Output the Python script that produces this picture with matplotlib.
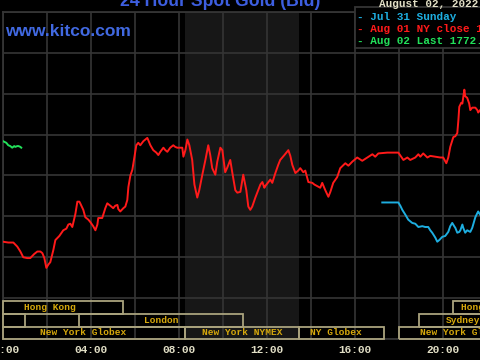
import matplotlib
matplotlib.use("Agg")
import matplotlib.pyplot as plt
import matplotlib.transforms as mtransforms
from matplotlib.patches import Rectangle

# hours are New York time, prices are bid in USD/oz
aug01_hours = [
    0.00, 0.24, 0.47, 0.65, 0.79, 0.92, 1.10, 1.24, 1.42, 1.56, 1.70, 1.79,
    1.88, 1.97, 2.06, 2.15, 2.29, 2.38, 2.56, 2.74, 2.88, 2.97, 3.06, 3.15,
    3.29, 3.38, 3.47, 3.51, 3.65, 3.74, 3.88, 3.97, 4.10, 4.20, 4.29, 4.33,
    4.42, 4.51, 4.65, 4.74, 4.88, 5.01, 5.10, 5.20, 5.24, 5.33, 5.47, 5.56,
    5.65, 5.70, 5.79, 5.88, 5.97, 6.06, 6.15, 6.24, 6.38, 6.56, 6.70, 6.83,
    6.97, 7.06, 7.15, 7.29, 7.38, 7.47, 7.60, 7.74, 7.83, 7.92, 8.06, 8.15,
    8.20, 8.29, 8.38, 8.47, 8.60, 8.70, 8.83, 8.92, 9.06, 9.20, 9.33, 9.42,
    9.51, 9.65, 9.74, 9.88, 9.97, 10.10, 10.20, 10.33, 10.42, 10.56, 10.65,
    10.79, 10.88, 10.92, 11.06, 11.15, 11.24, 11.33, 11.47, 11.60, 11.70,
    11.79, 11.88, 11.92, 12.06, 12.15, 12.24, 12.38, 12.51, 12.60, 12.79,
    12.97, 13.06, 13.15, 13.29, 13.42, 13.51, 13.65, 13.74, 13.88, 14.06,
    14.15, 14.42, 14.51, 14.65, 14.79, 14.88, 15.01, 15.19, 15.33, 15.56,
    15.70, 15.88, 16.10, 16.33, 16.56, 16.79, 16.92, 17.06, 17.47, 17.97,
    18.20, 18.38, 18.51, 18.74, 18.88, 18.97, 19.10, 19.29, 19.42, 19.65,
    19.88, 20.01, 20.15, 20.24, 20.33, 20.47, 20.56, 20.65, 20.70, 20.74,
    20.83, 20.88, 20.97, 21.01, 21.10, 21.19, 21.24, 21.33, 21.47, 21.56,
    21.60, 21.69,
]
aug01_prices = [
    1761.9, 1761.8, 1761.8, 1761.3, 1760.7, 1760.0, 1759.9, 1759.9, 1760.4,
    1760.7, 1760.7, 1760.5, 1759.9, 1758.7, 1759.1, 1759.4, 1760.9, 1762.1,
    1762.6, 1763.3, 1763.5, 1764.0, 1764.1, 1763.7, 1765.3, 1766.8, 1766.8,
    1766.6, 1765.8, 1764.9, 1764.6, 1764.3, 1763.8, 1763.3, 1764.0, 1764.8,
    1764.8, 1764.8, 1766.0, 1766.6, 1766.3, 1766.0, 1766.3, 1766.4, 1765.9,
    1765.6, 1766.0, 1766.2, 1767.0, 1768.6, 1770.0, 1770.7, 1772.2, 1773.7,
    1774.0, 1773.7, 1774.2, 1774.6, 1773.7, 1773.1, 1772.8, 1772.5, 1772.9,
    1773.4, 1773.1, 1772.9, 1773.4, 1773.7, 1773.5, 1773.4, 1773.4, 1773.4,
    1772.3, 1773.1, 1774.4, 1773.7, 1771.9, 1768.9, 1767.3, 1768.2, 1770.1,
    1771.9, 1773.7, 1772.5, 1770.9, 1770.1, 1771.7, 1773.4, 1773.1, 1770.4,
    1771.0, 1771.9, 1770.4, 1768.2, 1767.9, 1768.0, 1769.5, 1770.1, 1768.2,
    1766.2, 1765.8, 1766.2, 1767.3, 1768.2, 1768.9, 1769.2, 1768.5, 1768.7,
    1769.2, 1769.5, 1769.1, 1770.3, 1771.3, 1771.9, 1772.5, 1773.1, 1772.4,
    1771.3, 1770.3, 1770.6, 1770.9, 1770.4, 1770.6, 1769.2, 1769.1, 1768.9,
    1768.5, 1769.1, 1768.2, 1767.4, 1768.0, 1769.1, 1769.8, 1770.9, 1771.5,
    1771.2, 1771.7, 1772.2, 1771.8, 1772.2, 1772.6, 1772.3, 1772.7, 1772.8,
    1772.8, 1771.9, 1772.2, 1771.9, 1772.2, 1772.6, 1772.3, 1772.7, 1772.2,
    1772.4, 1772.3, 1772.2, 1772.2, 1771.5, 1772.2, 1773.5, 1774.7, 1774.8,
    1775.2, 1776.8, 1778.4, 1778.9, 1778.8, 1780.5, 1779.7, 1779.5, 1778.8,
    1778.0, 1778.3, 1778.3, 1778.0, 1777.7, 1778.0,
]

jul31_hours = [
    17.24, 17.97, 18.06, 18.15, 18.29, 18.42, 18.60, 18.74, 18.88, 19.06,
    19.19, 19.33, 19.42, 19.51, 19.65, 19.74, 19.83, 19.97, 20.10, 20.24,
    20.33, 20.42, 20.51, 20.56, 20.65, 20.74, 20.79, 20.88, 20.92, 21.01,
    21.10, 21.24, 21.33, 21.47, 21.56, 21.60, 21.69,
]
jul31_prices = [
    1766.7, 1766.7, 1766.3, 1765.8, 1765.2, 1764.6, 1764.2, 1764.1, 1763.7,
    1763.8, 1763.7, 1763.7, 1763.3, 1763.0, 1762.4, 1761.9, 1762.1, 1762.5,
    1762.6, 1763.1, 1763.8, 1764.2, 1763.8, 1763.6, 1763.0, 1763.1, 1763.3,
    1764.0, 1763.6, 1763.0, 1763.3, 1763.1, 1763.6, 1764.9, 1765.4, 1765.6,
    1765.2,
]

aug02_hours = [0.00, 0.15, 0.24, 0.33, 0.42, 0.51, 0.56, 0.65, 0.70, 0.79, 0.83]
aug02_prices = [1774.2, 1774.0, 1773.7, 1773.6, 1773.4, 1773.6, 1773.5,
                1773.6, 1773.6, 1773.5, 1773.4]

hour_ticks = [0, 4, 8, 12, 16, 20, 24]
ny_labels = ["00:00", "04:00", "08:00", "12:00", "16:00", "20:00", "24:00"]
gmt_labels = ["04:00", "08:00", "12:00", "16:00", "20:00", "00:00", "04:00"]

# trading sessions: row 0 is the bottom row
session_names = ["Hong Kong", "", "London", "New York Globex", "New York NYMEX",
                 "NY Globex", "New York Globex", "Sydney", "Hong Kong"]
session_rows = [2, 1, 1, 0, 0, 0, 0, 1, 2]
session_starts = [0.0, 0.0, 3.47, 0.0, 8.29, 13.47, 18.0, 18.9, 20.45]
session_ends = [5.47, 0.98, 10.92, 8.29, 13.47, 17.3, 26.0, 26.0, 26.0]
session_label_x = [2.15, 0.5, 7.2, 3.65, 10.88, 15.15, 20.93, 20.9, 22.0]

nymex_hours = (8.29, 13.47)

legend_labels = ["- Jul 31 Sunday", "- Aug 01 NY close 1772.50",
                 "- Aug 02 Last 1772.60"]
legend_colors = ["#1eaee0", "#ff1a1a", "#22e05a"]

mono = "Liberation Mono"
grid_color = "#353535"

fig = plt.figure(figsize=(4.8, 3.6), dpi=100, facecolor="black")
ax = fig.add_axes([3 / 480, 21 / 360, 528 / 480, 327 / 360], facecolor="black")

ax.axvspan(*nymex_hours, color="#171717", zorder=0, lw=0)

ax.plot(aug01_hours, aug01_prices, color=legend_colors[1], lw=1.4, zorder=3)
ax.plot(jul31_hours, jul31_prices, color=legend_colors[0], lw=1.4, zorder=3)
ax.plot(aug02_hours, aug02_prices, color=legend_colors[2], lw=1.4, zorder=3)

ax.set_xlim(0, 24)
ax.set_ylim(1750, 1790)
ax.set_xticks(hour_ticks)
ax.set_xticks(range(2, 24, 4), minor=True)
ax.set_xticklabels([f"{a}\n{b}" for a, b in zip(ny_labels, gmt_labels)],
                   family=mono, weight="bold", fontsize=8, color="#e2dfc6",
                   linespacing=1.65)
ax.set_yticks(range(1750, 1791, 5))
ax.tick_params(which="both", length=0, labelleft=False, pad=4)
ax.grid(which="both", color=grid_color, lw=1.2, zorder=1)
for s in ax.spines.values():
    s.set_color(grid_color)
    s.set_linewidth(1.3)

# session boxes along the bottom
trans = mtransforms.blended_transform_factory(ax.transData, ax.transAxes)
row_edges = [0.0, 0.0367, 0.0765, 0.116]
for name, row, x0, x1, lx in zip(session_names, session_rows, session_starts,
                                 session_ends, session_label_x):
    y0 = row_edges[row]
    h = row_edges[row + 1] - y0
    ax.add_patch(Rectangle((x0, y0), x1 - x0, h, transform=trans, fill=False,
                           edgecolor="#aaa37e", lw=1.3, zorder=4, clip_on=False))
    if name:
        ax.text(lx, y0 + h / 2, name, transform=trans, ha="center", va="center",
                family=mono, weight="bold", fontsize=6.8, color="#d6a80c",
                zorder=5, clip_on=False)

# legend box in the upper right corner
ax.add_patch(Rectangle((16, 1785.6), 12, 5, facecolor="black",
                       edgecolor=grid_color, lw=1.3, zorder=4, clip_on=False))
for i, (lab, col) in enumerate(zip(legend_labels, legend_colors)):
    fig.text(357 / 480, 1 - (17 + 12 * i) / 360, lab, ha="left", va="center",
             family=mono, weight="bold", fontsize=7.9, color=col)

fig.text(220 / 480, 1 - 6.5 / 360, "24 Hour Spot Gold (Bid)", ha="center",
         va="baseline", family="Liberation Sans", weight="bold", fontsize=12.7,
         color="#3d5ee0")
fig.text(5 / 480, 1 - 32 / 360, "www.kitco.com", ha="left", va="center",
         family="Liberation Sans", weight="bold", fontsize=12.5, color="#4169e1")
fig.text(379 / 480, 1 - 7 / 360, "August 02, 2022", ha="left", va="baseline",
         family=mono, weight="bold", fontsize=7.9, color="#e2dfc6")

fig.savefig("out.png", dpi=100, facecolor="black")
